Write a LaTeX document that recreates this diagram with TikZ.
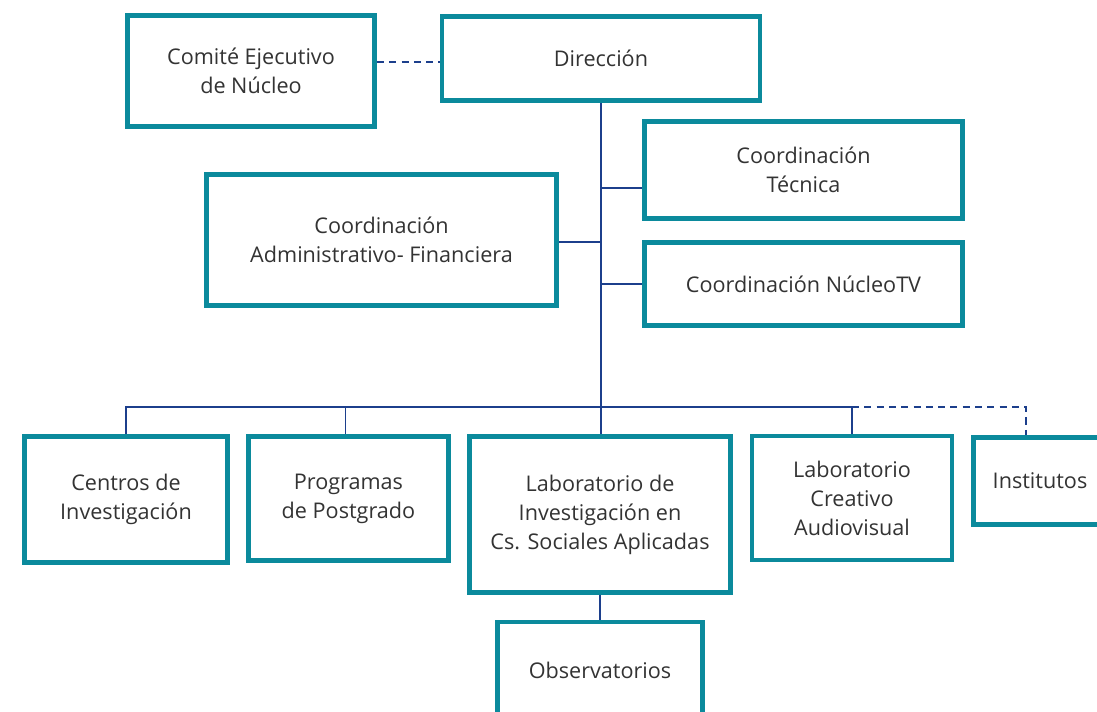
\documentclass[tikz,border=0pt]{standalone}
\usepackage{fontspec}
\setmainfont{Open Sans}
\usepackage{xcolor}
\usetikzlibrary{positioning,calc}

\definecolor{boxteal}{HTML}{0B8A9C}
\definecolor{linkblue}{HTML}{1C3F8C}
\definecolor{textgray}{HTML}{333333}

\begin{document}
\begin{tikzpicture}[x=0.02cm, y=-0.02cm,
  box/.style={rectangle, draw=boxteal, line width=2.8pt, fill=white, align=center,
    text=textgray, font=\fontsize{12.3}{16.5}\selectfont, inner sep=0pt},
  link/.style={draw=linkblue, line width=1.1pt},
  dlink/.style={link, dash pattern=on 4pt off 3pt}
]
  \useasboundingbox (0,0) rectangle (1097,711);
  \begin{scope}
  \clip (0,0) rectangle (1097,711);

  % junctions on the trunk
  \coordinate (bus) at (601,407);
  \coordinate (tb) at (601,188);
  \coordinate (ab) at (601,242);
  \coordinate (nb) at (601,284);

  \node[box, minimum width=318*0.02cm, minimum height=84*0.02cm] (dir) at (601,58.5) {Dirección};
  \node[box, minimum width=247*0.02cm, minimum height=111*0.02cm] (cen) at (251,71) {Comité Ejecutivo\\de Núcleo};
  \node[box, minimum width=318*0.02cm, minimum height=97*0.02cm] (tec) at (803.5,170) {Coordinación\\Técnica};
  \node[box, minimum width=350*0.02cm, minimum height=131*0.02cm] (adm) at (381.5,240) {Coordinación\\Administrativo- Financiera};
  \node[box, minimum width=318*0.02cm, minimum height=83*0.02cm] (ntv) at (803.5,284) {Coordinación NúcleoTV};

  \node[box, minimum width=203*0.02cm, minimum height=126*0.02cm] (cinv) at (126,499.5) {Centros de\\Investigación};
  \node[box, minimum width=200*0.02cm, minimum height=124*0.02cm] (prog) at (348.5,498.5) {Programas\\de Postgrado};
  \node[box, minimum width=261*0.02cm, minimum height=156*0.02cm] (lics) at (600,514.5) {Laboratorio de\\Investigación en\\Cs. Sociales Aplicadas};
  \node[box, minimum width=200*0.02cm, minimum height=124*0.02cm] (lca) at (852,498) {Laboratorio\\Creativo\\Audiovisual};
  \node[box, minimum width=133*0.02cm, minimum height=87*0.02cm] (inst) at (1040,481) {Institutos};
  \node[box, minimum width=205*0.02cm, minimum height=96*0.02cm] (obs) at (600,670) {Observatorios};

  \draw[dlink] (cen.east |- 0,62) -- (dir.west |- 0,62);
  \draw[link] (dir.south) -- (bus);
  \draw[link] (tb) -- (tb -| tec.west);
  \draw[link] (ab) -- (ab -| adm.east);
  \draw[link] (nb) -- (nb -| ntv.west);

  \draw[link] (cinv.north) -- (cinv.north |- bus) -- (lca.north |- bus) -- (lca.north);
  \draw[link] ([xshift=-3*0.02cm]prog.north) -- ([xshift=-3*0.02cm]prog.north |- bus);
  \draw[link] (bus) -- (bus |- lics.north);
  \draw[dlink] (lca.north |- bus) -| ([xshift=-14*0.02cm]inst.north);
  \draw[link] (lics.south) -- (obs.north);
  \end{scope}
\end{tikzpicture}
\end{document}
